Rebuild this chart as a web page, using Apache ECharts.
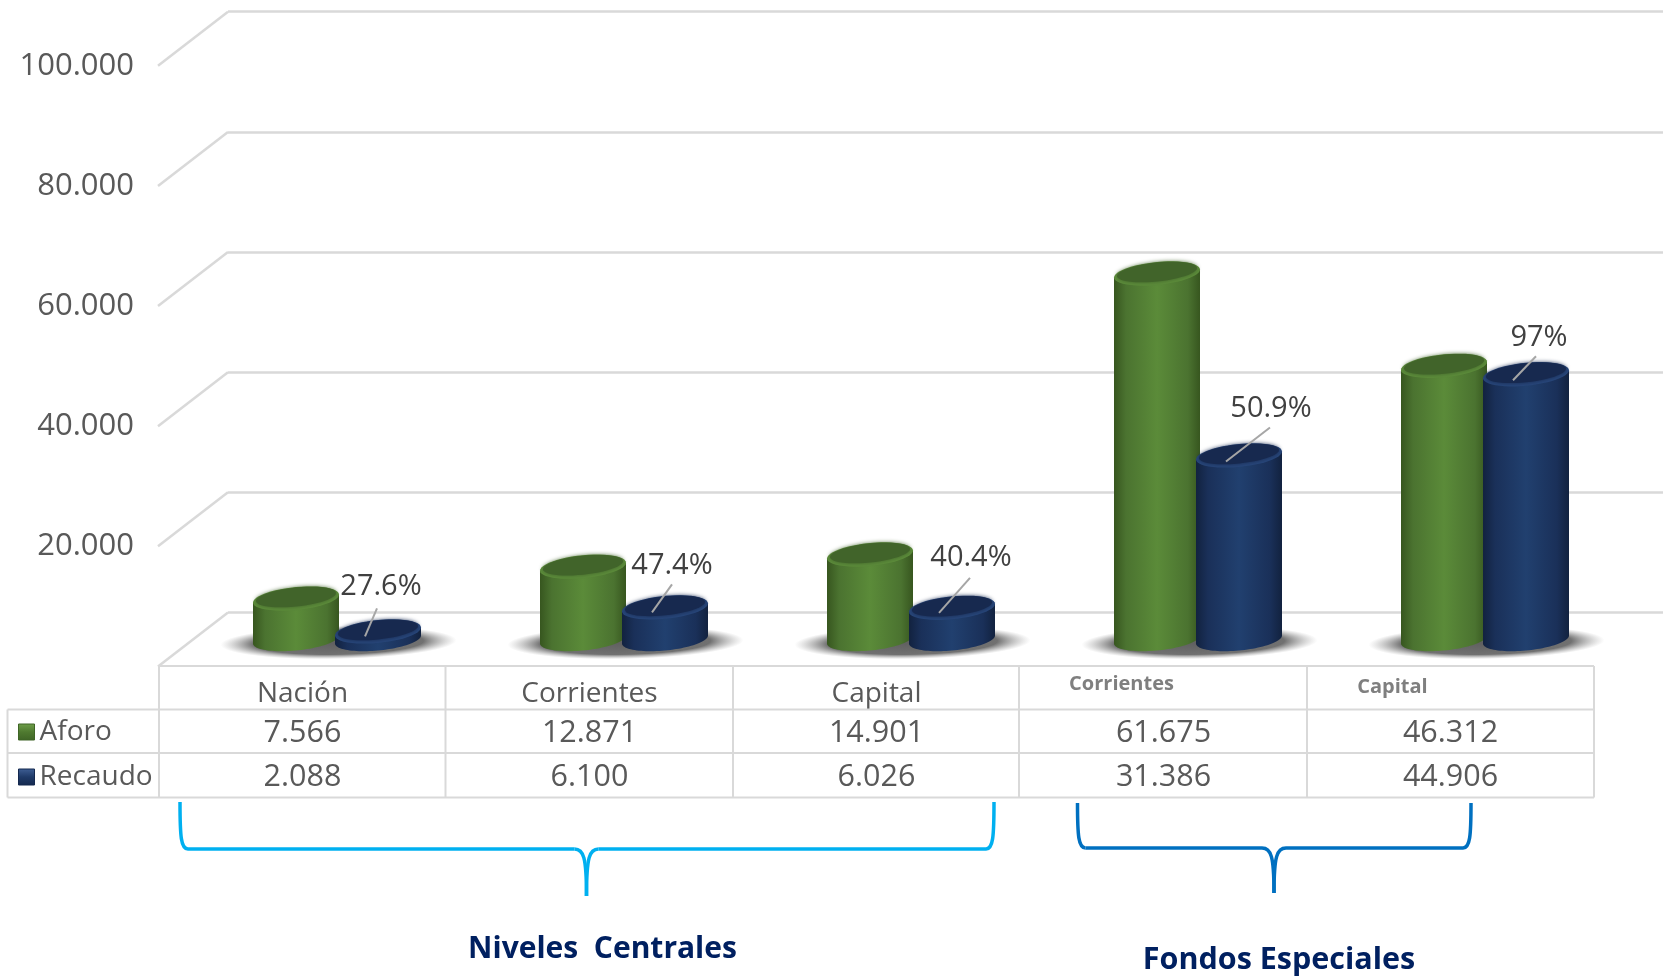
<!DOCTYPE html>
<html>
<head>
<meta charset="utf-8">
<title>Aforo y Recaudo</title>
<script src="https://cdn.jsdelivr.net/npm/echarts@6/dist/echarts.min.js"></script>
<style>
  html, body { margin: 0; padding: 0; background: #fff; }
  #chart { width: 1663px; height: 978px; }
</style>
</head>
<body>
<div id="chart"></div>
<script>
// datos
const categorias = ['Nación', 'Corrientes', 'Capital', 'Corrientes', 'Capital'];
const aforo = [7566, 12871, 14901, 61675, 46312];
const recaudo = [2088, 6100, 6026, 31386, 44906];
const porcentajes = ['27.6%', '47.4%', '40.4%', '50.9%', '97%'];
const yTicks = [0, 20000, 40000, 60000, 80000, 100000];

const FONT = '"Open Sans", sans-serif';
const GRIS = '#d9d9d9';
const DX = 70, DY = -54;      // profundidad del "piso" 3D
const HALF_W = 43, CAP_B = 11, CAP_S = 4;
const CAP_BAJA = 4.5;         // la tapa queda un poco por debajo del valor

function miles(v) {
  return String(v).replace(/\B(?=(\d{3})(?!\d))/g, '.');
}

// elipse inclinada, sube hacia la derecha
function elipse(cx, cy, a, b, s, from, to) {
  const pts = [];
  for (let i = 0; i <= 48; i++) {
    const t = from + (to - from) * i / 48;
    pts.push([cx + a * Math.cos(t), cy + b * Math.sin(t) - s * Math.cos(t)]);
  }
  return pts;
}

function grad(c0, c1, c2, vertical) {
  return new echarts.graphic.LinearGradient(0, 0, vertical ? 0 : 1, vertical ? 1 : 0, [
    { offset: 0, color: c0 }, { offset: 0.5, color: c1 }, { offset: 1, color: c2 }
  ]);
}

function cilindro(offset, colores, fila, filaY) {
  return function(params, api) {
    const idx = api.value(0);
    const v = api.value(1);
    const base = api.coord([idx, 0]);
    const top = api.coord([idx, v]);
    const cx = base[0] + DX / 2 + offset;
    const yb = base[1] + DY / 2;
    const yt = top[1] + DY / 2 + CAP_BAJA;
    const cuerpo = [[cx + HALF_W, yt - CAP_S]]
      .concat(elipse(cx, yb, HALF_W, CAP_B, CAP_S, 0, Math.PI))
      .concat([[cx - HALF_W, yt + CAP_S]]);
    return {
      type: 'group',
      children: [
        { type: 'polygon', shape: { points: cuerpo },
          style: { fill: new echarts.graphic.LinearGradient(0, 0, 1, 0, [
            { offset: 0, color: colores[0] }, { offset: 0.14, color: colores[1] },
            { offset: 0.5, color: colores[2] }, { offset: 0.86, color: colores[1] },
            { offset: 1, color: colores[0] }
          ]) } },
        { type: 'polygon', shape: { points: elipse(cx, yt, HALF_W, CAP_B + 0.5, CAP_S, 0, Math.PI * 2) },
          style: { fill: colores[3] } },
        { type: 'polygon', shape: { points: elipse(cx, yt - 1.5, HALF_W - 3, CAP_B - 1.5, CAP_S, 0, Math.PI * 2) },
          style: { fill: colores[4], shadowBlur: 4, shadowColor: colores[4] } },
        { type: 'text', style: { text: miles(fila[idx]), x: base[0], y: filaY, align: 'center',
          verticalAlign: 'middle', font: '30.5px ' + FONT, fill: '#595959' } }
      ]
    };
  };
}

// ajuste de cada rotulo respecto al centro de la tapa azul
const rotuloDx = [3, 7, 19, 32, 13];
const rotuloLinea = [[-13, 5, -1, -23], [-13, 5, 7, -23], [-13, 5, 18, -30], [-13, 6, 31, -28], [-13, 6, 10, -18]];
const rotuloDy = [-44.5, -41.5, -50.5, -46.5, -36.5];

// llave: xa y xb extremos, xc centro, ya arriba, ym horizontal, yb punta
function llave(xa, xb, xc, ya, ym, yb, color) {
  const st = { fill: 'none', stroke: color, lineWidth: 3.5 };
  const curva = function(x1, y1, c1x, c1y, c2x, c2y, x2, y2) {
    return { type: 'bezierCurve', silent: true, style: st,
      shape: { x1: x1, y1: y1, cpx1: c1x, cpy1: c1y, cpx2: c2x, cpy2: c2y, x2: x2, y2: y2 } };
  };
  const recta = function(x1, x2) {
    return { type: 'line', silent: true, style: st, shape: { x1: x1, y1: ym, x2: x2, y2: ym } };
  };
  return [
    curva(xa, ya, xa, ym - 12, xa + 1, ym, xa + 8, ym),
    recta(xa + 8, xc - 12),
    curva(xc - 12, ym, xc - 3, ym, xc, ym + 8, xc, yb),
    curva(xc, yb, xc, ym + 8, xc + 3, ym, xc + 12, ym),
    recta(xc + 12, xb - 8),
    curva(xb - 8, ym, xb - 1, ym, xb, ym - 12, xb, ya)
  ];
}

const chart = echarts.init(document.getElementById('chart'));
chart.setOption({
  backgroundColor: '#fff',
  animation: false,
  grid: [
    { left: 159, top: 65.8, width: 1435, height: 600.7 },
    { left: 228, top: 11.7, right: 0, height: 601 }
  ],
  xAxis: [
    {
      type: 'category', gridIndex: 0,
      data: categorias.map(function(c, i) {
        if (i < 3) return c;
        return { value: c, textStyle: {
          fontSize: 20, fontWeight: 'bold', color: '#7f7f7f',
          padding: i === 3 ? [0, 84, 8, 0] : [3, 116, 0, 0]
        } };
      }),
      axisLine: { show: false }, axisTick: { show: false },
      axisLabel: { margin: 8, padding: [6, 0, 0, 0], fontFamily: FONT, fontSize: 28, color: '#595959', interval: 0 }
    },
    { type: 'value', gridIndex: 1, min: 0, max: 1, show: false }
  ],
  yAxis: [
    {
      type: 'value', gridIndex: 0, min: 0, max: 100000, interval: 20000,
      axisLine: { show: false }, axisTick: { show: false }, splitLine: { show: false },
      axisLabel: {
        margin: 25, fontFamily: FONT, fontSize: 31, color: '#595959', padding: [0, 0, 2, 0],
        formatter: function(v) { return v === 0 ? '' : miles(v); }
      }
    },
    {
      type: 'value', gridIndex: 1, min: 0, max: 100000, interval: 20000,
      axisLine: { show: false }, axisTick: { show: false }, axisLabel: { show: false },
      splitLine: { show: true, lineStyle: { color: GRIS, width: 2.5 } }
    }
  ],
  legend: {
    orient: 'vertical', left: 13, top: 713, itemWidth: 16, itemHeight: 16, itemGap: 17,
    textStyle: { fontFamily: FONT, fontSize: 28, color: '#595959' },
    data: [
      { name: 'Aforo', icon: 'rect', itemStyle: { color: grad('#6f9f4a', '#4f7a30', '#3f6526', true), borderColor: '#3f6526', borderWidth: 1 } },
      { name: 'Recaudo', icon: 'rect', itemStyle: { color: grad('#3f5f95', '#1f3a68', '#14284e', true), borderColor: '#14284e', borderWidth: 1 } }
    ]
  },
  series: [
    // diagonales de la pared lateral
    {
      type: 'custom', name: 'pared', silent: true, z: 1,
      data: yTicks.map(function(v) { return [0, v]; }),
      encode: { x: 0, y: 1 },
      renderItem: function(params, api) {
        const p = api.coord([0, api.value(1)]);
        const x0 = p[0] - api.size([1, 0])[0] / 2 - 1;
        return { type: 'line', shape: { x1: x0, y1: p[1], x2: x0 + DX, y2: p[1] + DY },
          style: { stroke: GRIS, lineWidth: 2.5 } };
      }
    },
    // sombras bajo cada grupo
    {
      type: 'custom', name: 'sombra', silent: true, z: 2,
      data: categorias.map(function(c, i) { return [i, 0]; }),
      encode: { x: 0, y: 1 },
      renderItem: function(params, api) {
        const b = api.coord([api.value(0), 0]);
        return { type: 'circle',
          x: b[0] + DX / 2 + 1, y: b[1] + DY / 2 + 3, scaleY: 0.14, rotation: 0.02,
          shape: { cx: 0, cy: 0, r: 118 },
          style: { fill: new echarts.graphic.RadialGradient(0.5, 0.5, 0.5, [
            { offset: 0, color: 'rgba(95,95,95,1)' },
            { offset: 0.72, color: 'rgba(105,105,105,0.95)' },
            { offset: 1, color: 'rgba(160,160,160,0)' }
          ]) } };
      }
    },
    {
      type: 'custom', name: 'Aforo', z: 3, itemStyle: { color: '#4f7a30' },
      data: aforo.map(function(v, i) { return [i, v]; }),
      encode: { x: 0, y: 1 },
      renderItem: cilindro(-41.5, ['#37561f', '#4b7330', '#5b8b39', '#5c8c3a', '#41642a'], aforo, 733)
    },
    {
      type: 'custom', name: 'Recaudo', z: 4, itemStyle: { color: '#1f3a68' },
      data: recaudo.map(function(v, i) { return [i, v]; }),
      encode: { x: 0, y: 1 },
      renderItem: cilindro(40.5, ['#12223f', '#1a3059', '#21406f', '#27467a', '#17294f'], recaudo, 777)
    },
    // porcentajes con linea guia
    {
      type: 'custom', name: 'porcentaje', silent: true, z: 5,
      data: recaudo.map(function(v, i) { return [i, v]; }),
      encode: { x: 0, y: 1 },
      renderItem: function(params, api) {
        const idx = api.value(0);
        const p = api.coord([idx, api.value(1)]);
        const cx = p[0] + DX / 2 + 40.5;
        const cy = p[1] + DY / 2 + CAP_BAJA;
        const l = rotuloLinea[idx];
        return { type: 'group', children: [
          { type: 'line', shape: { x1: cx + l[0], y1: cy + l[1], x2: cx + l[2], y2: cy + l[3] },
            style: { stroke: '#a6a6a6', lineWidth: 2 } },
          { type: 'text', style: { text: porcentajes[idx], x: cx + rotuloDx[idx], y: cy + rotuloDy[idx],
            align: 'center', verticalAlign: 'middle', font: '29px ' + FONT, fill: '#404040' } }
        ] };
      }
    }
  ],
  graphic: [].concat(
    // tabla
    [[159, 666, 1594, 666], [7.5, 709.5, 1594, 709.5], [7.5, 753, 1594, 753], [7.5, 797.5, 1594, 797.5],
     [7.5, 709.5, 7.5, 797.5], [159, 666, 159, 797.5], [445.5, 666, 445.5, 797.5], [733, 666, 733, 797.5],
     [1019, 666, 1019, 797.5], [1307, 666, 1307, 797.5], [1594, 666, 1594, 797.5]].map(function(l) {
      return { type: 'line', silent: true, z: 1,
        shape: { x1: l[0], y1: l[1], x2: l[2], y2: l[3] }, style: { stroke: GRIS, lineWidth: 2 } };
    }),
    llave(180, 994, 586.5, 802, 849, 896, '#00b0f0'),
    llave(1077.5, 1471, 1274, 803, 848, 893, '#0070c0'),
    [
      { type: 'text', silent: true, style: { text: 'Niveles  Centrales', x: 602.5, y: 949, align: 'center', verticalAlign: 'middle',
        font: 'bold 30px ' + FONT, fill: '#002060' } },
      { type: 'text', silent: true, style: { text: 'Fondos Especiales', x: 1279, y: 960, align: 'center', verticalAlign: 'middle',
        font: 'bold 30.5px ' + FONT, fill: '#002060' } }
    ]
  )
});
</script>
</body>
</html>
